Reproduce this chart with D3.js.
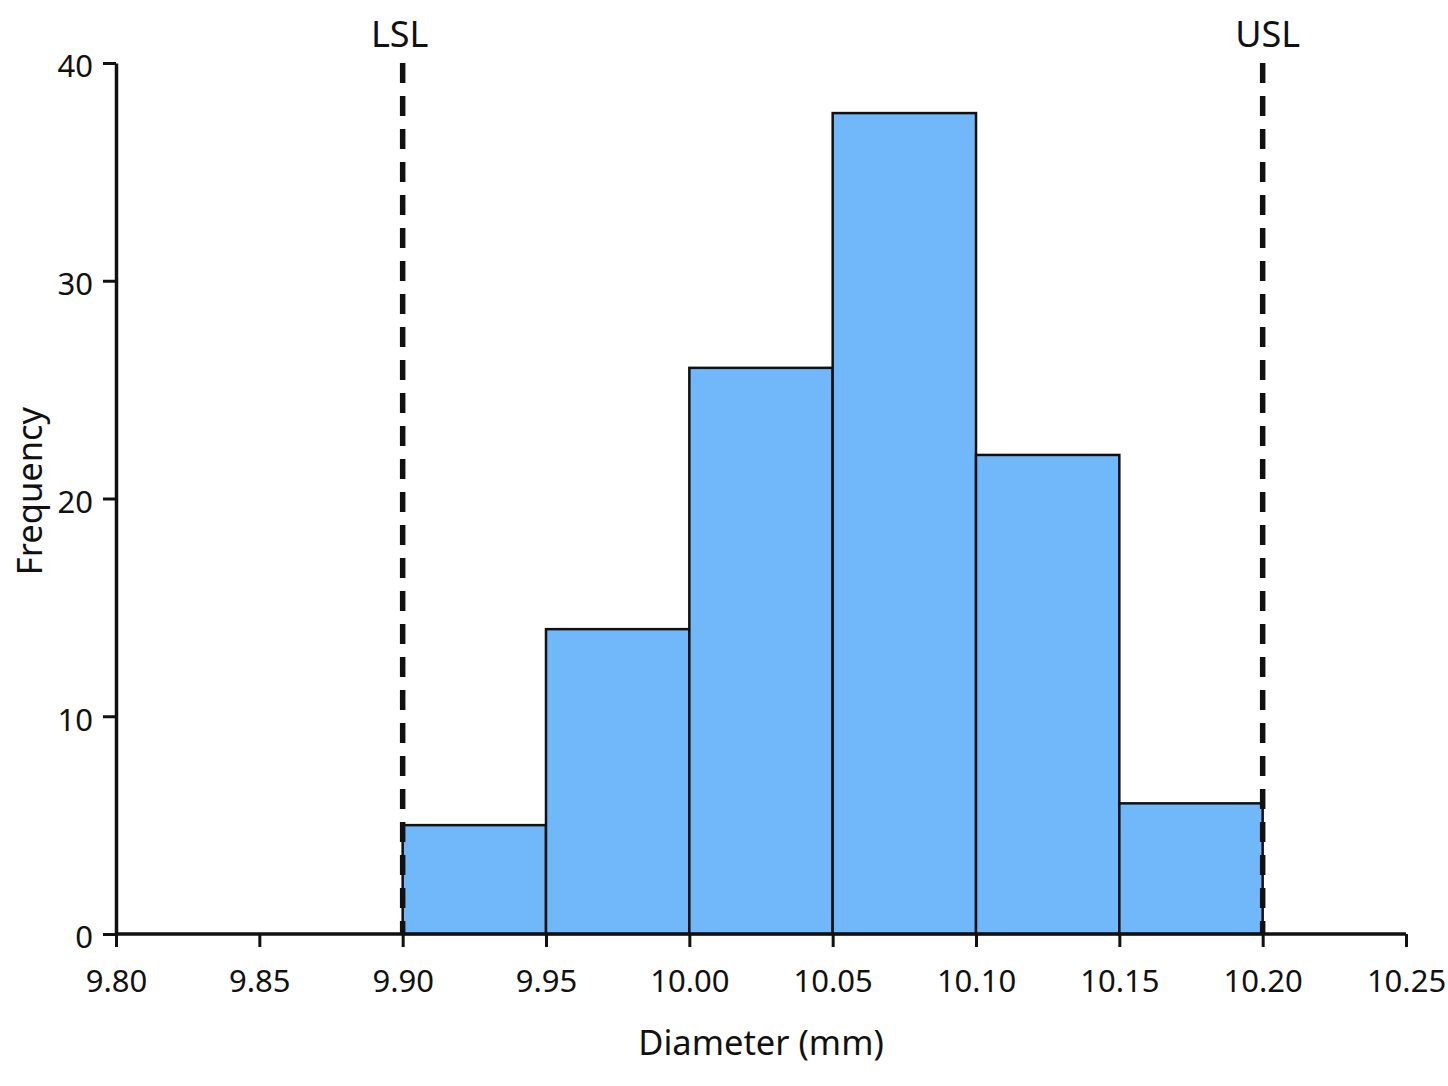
<!doctype html>
<html>
<head>
    <meta charset="utf-8">
    <script src="https://d3js.org/d3.v7.min.js"></script>
    <style>
        body { margin: 0; background: #fff; }
        svg text { font-family: "Noto Sans", "Open Sans", sans-serif; fill: #111; }
    </style>
</head>
<body>
<svg id="chart" width="1448" height="1086"></svg>
<script>
    // bin edges and counts
    var binStarts = [9.90, 9.95, 10.00, 10.05, 10.10, 10.15];
    var binWidth = 0.05;
    var counts = [5, 14, 26, 37.7, 22, 6];
    var xTicks = [9.80, 9.85, 9.90, 9.95, 10.00, 10.05, 10.10, 10.15, 10.20, 10.25];
    var yTicks = [0, 10, 20, 30, 40];
    var specLimits = [{ name: "LSL", value: 9.90 }, { name: "USL", value: 10.20 }];

    var svg = d3.select("#chart");

    var x = d3.scaleLinear()
        .domain([9.80, 10.25])
        .range([116, 1406]);
    var y = d3.scaleLinear()
        .domain([0, 40])
        .range([934, 63]);

    // bars
    svg.append("g")
        .selectAll("rect")
        .data(binStarts)
        .enter()
        .append("rect")
        .attr("x", d => x(d))
        .attr("width", d => x(d + binWidth) - x(d))
        .attr("y", (d, i) => y(counts[i]))
        .attr("height", (d, i) => y(0) - y(counts[i]))
        .style("fill", "#70b8fa")
        .style("stroke", "#111")
        .style("stroke-width", 2.5);

    // x axis
    svg.append("g")
        .attr("transform", "translate(0," + y(0) + ")")
        .call(d3.axisBottom(x)
            .tickValues(xTicks)
            .tickFormat(d3.format(".2f"))
            .tickSize(13)
            .tickSizeOuter(0))
        .call(g => g.select(".domain").attr("stroke", "#111").attr("stroke-width", 3.5)
            .attr("d", "M" + x(9.80) + ",0H" + x(10.25)))
        .call(g => g.selectAll(".tick line").attr("stroke", "#111").attr("stroke-width", 3))
        .call(g => g.selectAll(".tick text")
            .attr("y", 36)
            .attr("dy", "0.71em")
            .style("font-size", "31px"));

    // y axis
    svg.append("g")
        .attr("transform", "translate(" + x(9.80) + ",0)")
        .call(d3.axisLeft(y)
            .tickValues(yTicks)
            .tickSize(13)
            .tickSizeOuter(0))
        .call(g => g.select(".domain").attr("stroke", "#111").attr("stroke-width", 3.5))
        .call(g => g.selectAll(".tick line").attr("stroke", "#111").attr("stroke-width", 3))
        .call(g => g.selectAll(".tick text")
            .attr("x", -23)
            .attr("dy", "0.45em")
            .style("font-size", "31px"));

    // spec limit lines
    var limits = svg.append("g")
        .selectAll("g")
        .data(specLimits)
        .enter()
        .append("g");
    limits.append("line")
        .attr("x1", d => x(d.value))
        .attr("x2", d => x(d.value))
        .attr("y1", y(40))
        .attr("y2", y(0))
        .style("stroke", "#111")
        .style("stroke-width", 5.5)
        .style("stroke-dasharray", "20,13");
    limits.append("text")
        .attr("x", d => x(d.value) + (d.name == "USL" ? 5 : -3))
        .attr("y", 47)
        .attr("text-anchor", "middle")
        .style("font-size", "36px")
        .text(d => d.name);

    // axis titles
    svg.append("text")
        .attr("x", 761)
        .attr("y", 1055)
        .attr("text-anchor", "middle")
        .style("font-size", "34.5px")
        .text("Diameter (mm)");
    svg.append("text")
        .attr("transform", "translate(42,491) rotate(-90)")
        .attr("text-anchor", "middle")
        .style("font-size", "34.5px")
        .text("Frequency");
</script>
</body>
</html>
